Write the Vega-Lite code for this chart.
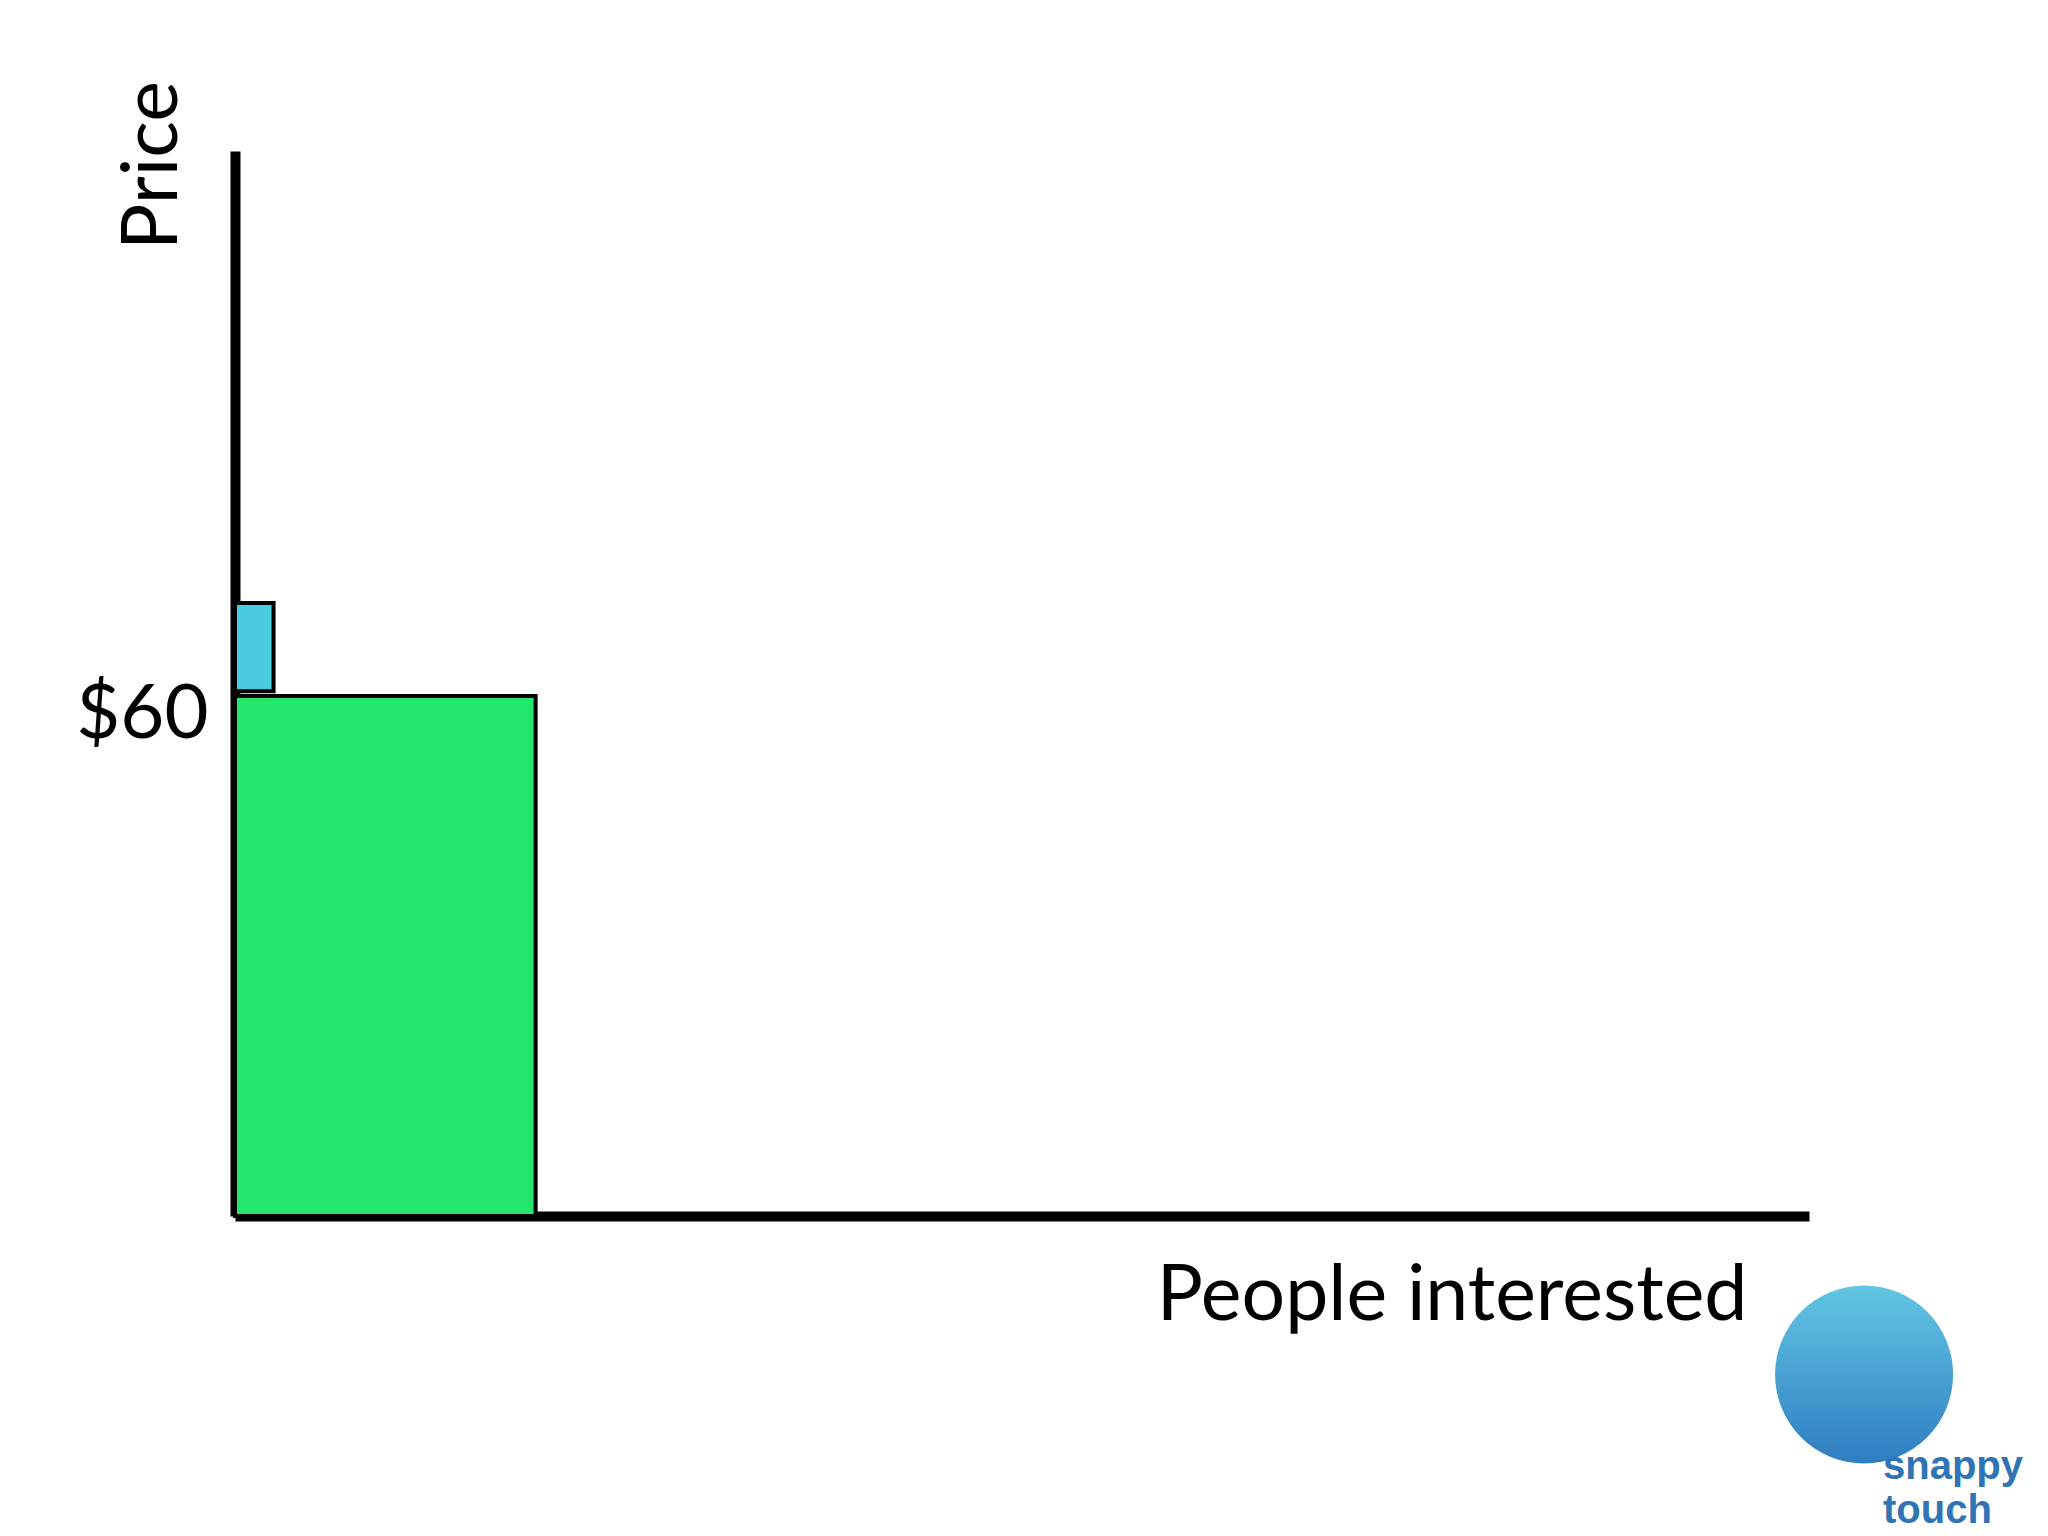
{
  "$schema": "https://vega.github.io/schema/vega-lite/v6.json",
  "autosize": "none",
  "width": 1574,
  "height": 1065,
  "padding": {"left": 235, "top": 151, "right": 239, "bottom": 320},
  "background": "white",
  "config": {"view": {"stroke": null}, "font": "Lato"},
  "datasets": {
    "bars": [
      {"segment": "Buyers at $60", "people_from": 0, "people_to": 19.1, "price_from": 0, "price_to": 60.05},
      {"segment": "Extra buyer at higher price", "people_from": 0, "people_to": 2.45, "price_from": 60.6, "price_to": 70.8}
    ],
    "logo": [
      {"brand": "snappy touch", "x": 103.5, "y": -18.3, "tx": 104.7, "ty": -30.4}
    ]
  },
  "layer": [
    {
      "data": {"name": "bars"},
      "mark": {"type": "rect", "stroke": "black", "strokeWidth": 4},
      "encoding": {
        "x": {
          "field": "people_from", "type": "quantitative",
          "scale": {"domain": [0, 100], "nice": false, "zero": false},
          "axis": {
            "title": "People interested", "grid": false, "ticks": false, "labels": false,
            "domainColor": "black", "domainWidth": 10,
            "titleFont": "Lato", "titleFontSize": 77, "titleFontWeight": "normal", "titleColor": "black",
            "titleAlign": "right", "titleBaseline": "alphabetic", "titleX": 1512, "titleY": 103
          }
        },
        "x2": {"field": "people_to"},
        "y": {
          "field": "price_from", "type": "quantitative",
          "scale": {"domain": [0, 123], "nice": false, "zero": false},
          "axis": {
            "title": "Price", "grid": false, "ticks": false, "values": [60],
            "labelExpr": "'$' + datum.value",
            "labelFont": "Lato", "labelFontSize": 76, "labelColor": "black",
            "labelPadding": 27, "labelBaseline": "alphabetic", "labelOffset": 41,
            "domainColor": "black", "domainWidth": 10,
            "titleFont": "Lato", "titleFontSize": 77, "titleFontWeight": "normal", "titleColor": "black",
            "titleAngle": -90, "titleAlign": "center", "titleBaseline": "alphabetic",
            "titleX": -59, "titleY": 14
          }
        },
        "y2": {"field": "price_to"},
        "color": {
          "field": "segment", "type": "nominal",
          "scale": {"domain": ["Buyers at $60", "Extra buyer at higher price"], "range": ["#23e66c", "#4bcbe0"]},
          "legend": null
        }
      }
    },
    {
      "data": {"name": "logo"},
      "mark": {
        "type": "point", "shape": "circle", "filled": true, "size": 31684, "opacity": 1,
        "color": {
          "gradient": "linear", "x1": 0, "y1": 0, "x2": 0, "y2": 1,
          "stops": [{"offset": 0, "color": "#62c6e3"}, {"offset": 1, "color": "#2f7dc2"}]
        }
      },
      "encoding": {
        "x": {"field": "x", "type": "quantitative"},
        "y": {"field": "y", "type": "quantitative"}
      }
    },
    {
      "data": {"name": "logo"},
      "mark": {
        "type": "text", "align": "left", "baseline": "alphabetic", "font": "Liberation Sans",
        "fontWeight": "bold", "fontSize": 40, "lineHeight": 44, "lineBreak": " ", "color": "#2f74b5"
      },
      "encoding": {
        "x": {"field": "tx", "type": "quantitative"},
        "y": {"field": "ty", "type": "quantitative"},
        "text": {"field": "brand"}
      }
    }
  ]
}
